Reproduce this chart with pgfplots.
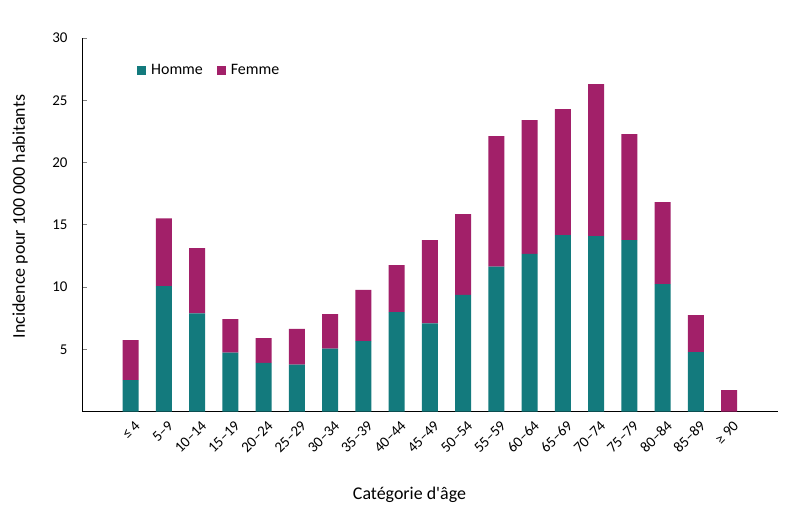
\documentclass[border=0pt]{standalone}
\usepackage{fontspec}
\setmainfont{Carlito}
\usepackage{pgfplots}
\pgfplotsset{compat=1.18}

\definecolor{homme}{RGB}{19,122,125}
\definecolor{femme}{RGB}{162,32,105}

\begin{document}
\begin{tikzpicture}
\useasboundingbox (0,0) rectangle (796bp,519bp);
\begin{axis}[
    at={(82bp,107.3bp)}, anchor=south west,
    scale only axis,
    width=696bp, height=373.7bp,
    ybar stacked, bar width=16bp,
    xmin=-1.465, xmax=19.47,
    ymin=0, ymax=30,
    ytick={5,10,15,20,25,30},
    xtick=data,
    xticklabels={≤ 4,5–9,10–14,15–19,20–24,25–29,30–34,35–39,40–44,45–49,50–54,55–59,60–64,65–69,70–74,75–79,80–84,85–89,≥ 90},
    axis lines*=left,
    axis line style={-, line width=0.9bp},
    x axis line style={-},
    y axis line style={-},
    xtick style={draw=none},
    ytick style={line width=0.8bp},
    major tick length=5bp,
    tick align=inside,
    /pgf/number format/assume math mode=true,
    tick label style={font=\fontsize{15}{18}\selectfont},
    yticklabel style={xshift=-11bp},
    xticklabel style={rotate=45, anchor=east, yshift=-13bp},
    every axis x label/.style={at={(axis description cs:0.4705,-0.223)}, anchor=center},
    every axis y label/.style={at={(axis description cs:-0.089,0.522)}, rotate=90, anchor=center},
    label style={font=\fontsize{18}{21}\selectfont},
    xlabel={Catégorie d\textquotesingle âge},
    ylabel={Incidence pour 100 000 habitants},
    legend columns=2,
    legend style={at={(axis description cs:0.079,0.914)}, anchor=west, draw=none,
        font=\fontsize{16}{19}\selectfont, inner sep=0pt,
        /tikz/every odd column/.append style={column sep=3bp},
        /tikz/every even column/.append style={column sep=12bp}},
    legend image code/.code={\fill (0bp,-4.5bp) rectangle (9bp,4.5bp);},
]
\addplot[fill=homme, draw=none] coordinates {
    (0,2.54) (1,10.09) (2,7.90) (3,4.74) (4,3.91) (5,3.77) (6,5.06) (7,5.67) (8,8.00) (9,7.09)
    (10,9.37) (11,11.64) (12,12.66) (13,14.18) (14,14.10) (15,13.78) (16,10.25) (17,4.79) (18,0)
};
\addplot[fill=femme, draw=none] coordinates {
    (0,3.21) (1,5.43) (2,5.23) (3,2.70) (4,2.00) (5,2.87) (6,2.78) (7,4.10) (8,3.77) (9,6.69)
    (10,6.50) (11,10.49) (12,10.75) (13,10.11) (14,12.20) (15,8.51) (16,6.58) (17,2.97) (18,1.74)
};
\legend{Homme,Femme}
\end{axis}
\end{tikzpicture}
\end{document}
